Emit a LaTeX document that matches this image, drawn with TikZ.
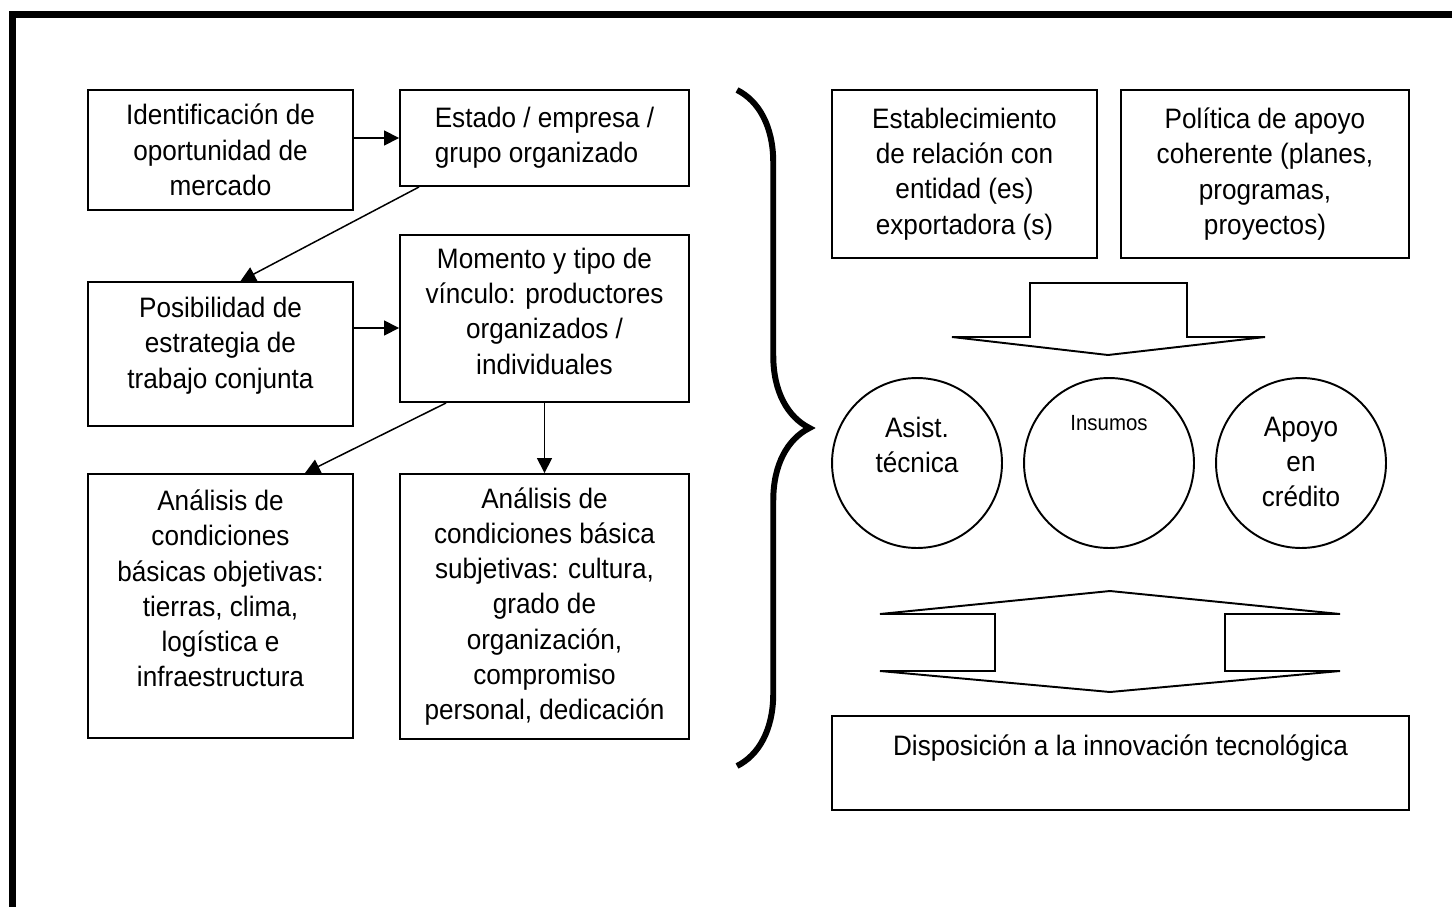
\documentclass[tikz,border=0pt]{standalone}
\usepackage{fontspec}
\setmainfont{Liberation Sans}[FakeStretch=0.93]
\usetikzlibrary{arrows.meta,decorations.pathreplacing}

\begin{document}
\begin{tikzpicture}[x=0.02cm, y=-0.02cm]
    \tikzstyle{box} = [shape=rectangle, draw, line width=1.1pt, align=center, inner sep=0pt, font=\fontsize{16}{20.1}\selectfont]
    \tikzstyle{arr} = [line width=0.85pt, -{Triangle[length=0.3cm, width=0.3cm]}]
    \tikzstyle{bubble} = [shape=circle, draw, line width=1.1pt, minimum size=3.4cm, inner sep=0pt]
    \tikzstyle{txt} = [align=center, inner sep=0pt, font=\fontsize{16}{20.1}\selectfont]
    \tikzstyle{blockarrow} = [line width=1.1pt, line join=miter]

    \useasboundingbox (0,0) rectangle (1452,906);
    \clip (0,0) rectangle (1452,906);
    \draw[line width=4pt] (12.5,14.5) rectangle (1480,940);

    % left side: chain of boxes
    \node[box, minimum width=5.3cm,  minimum height=2.4cm]  (ident)   at (220.5,150)   {Identificación de\\oportunidad de\\mercado};
    \node[box, minimum width=5.78cm, minimum height=1.92cm, align=left] (estado) at (544.5,138) {Estado / empresa /\\grupo organizado};
    \node[box, minimum width=5.3cm,  minimum height=2.88cm] (posib)   at (220.5,354)   {Posibilidad de\\estrategia de\\trabajo conjunta\\[-0.25cm]};
    \node[box, minimum width=5.78cm, minimum height=3.34cm] (momento) at (544.5,318.5) {Momento y tipo de\\vínculo: productores\\organizados /\\individuales\\[-0.4cm]};
    \node[box, minimum width=5.3cm,  minimum height=5.28cm] (objet)   at (220.5,606)   {Análisis de\\condiciones\\básicas objetivas:\\tierras, clima,\\logística e\\infraestructura\\ \mbox{}};
    \node[box, minimum width=5.78cm, minimum height=5.3cm]  (subjet)  at (544.5,606.5) {Análisis de\\condiciones básica\\subjetivas: cultura,\\grado de\\organización,\\compromiso\\personal, dedicación};

    \coordinate (cd) at ([yshift=0.52cm]posib.east);
    \draw[arr] (estado.west -| ident.east) -- (estado.west);
    \draw[arr] ([xshift=0.4cm]estado.south west) -- ([xshift=0.4cm]posib.north);
    \draw[arr] (cd) -- (cd -| momento.west);
    \draw[arr] ([xshift=0.94cm]momento.south west) -- ([xshift=1.69cm]objet.north);
    \draw[arr] (momento.south) -- (subjet.north);

    % brace
    \draw[line width=3.4pt, decorate, decoration={brace, amplitude=1.45cm}] (737,90) -- (737,766);

    % right side
    \node[box, minimum width=5.3cm,  minimum height=3.36cm] (relacion) at (964.5,174) {Establecimiento\\de relación con\\entidad (es)\\exportadora (s)};
    \node[box, minimum width=5.76cm, minimum height=3.36cm] (politica) at (1265,174)  {Política de apoyo\\coherente (planes,\\programas,\\proyectos)};

    \draw[blockarrow] (952,337) -- (1030,337) -- (1030,283) -- (1187,283) -- (1187,337) -- (1265,337) -- (1108,355) -- cycle;

    \node[bubble] (asist)   at (917,463)  {};
    \node[bubble] (insumos) at (1109,463) {};
    \node[bubble] (apoyo)   at (1301,463) {};
    \node[txt] (asistlbl)   at (917,445)  {Asist.\\técnica};
    \node[txt, font=\fontsize{12.5}{15}\selectfont] (insumoslbl) at (1109,423) {Insumos};
    \node[txt] (apoyolbl)   at (1301,462) {Apoyo\\en\\crédito};

    \draw[blockarrow] (880,614) -- (1110,591) -- (1340,614) -- (1225,614) -- (1225,671) -- (1340,671) -- (1110,692) -- (880,671) -- (995,671) -- (995,614) -- cycle;

    \node[box, minimum width=11.54cm, minimum height=1.88cm] (innov) at (1120.5,763) {Disposición a la innovación tecnológica\\ \mbox{}};
\end{tikzpicture}
\end{document}
